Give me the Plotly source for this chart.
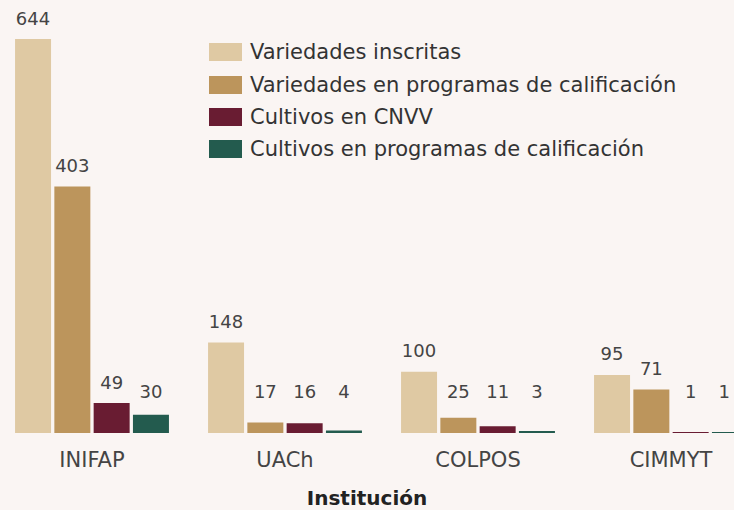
import plotly.graph_objects as go

categories = ["INIFAP", "UACh", "COLPOS", "CIMMYT"]
series_names = [
    "Variedades inscritas",
    "Variedades en programas de calificación",
    "Cultivos en CNVV",
    "Cultivos en programas de calificación",
]
variedades_inscritas = [644, 148, 100, 95]
variedades_programas = [403, 17, 25, 71]
cultivos_cnvv = [49, 16, 11, 1]
cultivos_programas = [30, 4, 3, 1]
series_values = [variedades_inscritas, variedades_programas, cultivos_cnvv, cultivos_programas]
colors = ["#DFC9A3", "#BC955C", "#691C32", "#235B4E"]

W, H = 734, 510
PLOT_BOTTOM = 433          # px of baseline
PX_PER_UNIT_Y = 0.6118
PITCH = 193.0              # px per category
FIRST_CENTER = 92.0        # px of first category center
SLOT = 39.3 / PITCH
BARW = 36.0 / PITCH

x0 = -FIRST_CENTER / PITCH
x1 = x0 + W / PITCH
ymax = PLOT_BOTTOM / PX_PER_UNIT_Y

font_family = "DejaVu Sans"
label_color = "#444444"
bg = "#FAF5F3"

fig = go.Figure()
for j, (name, vals, col) in enumerate(zip(series_names, series_values, colors)):
    xs = [i + (j - 1.5) * SLOT for i in range(len(categories))]
    fig.add_trace(go.Bar(
        x=xs, y=vals, width=BARW, name=name, marker=dict(color=col, line=dict(width=0)),
        showlegend=False, hoverinfo="y",
    ))
    label_y = [max(v + 31, 65) for v in vals]
    # keep labels near the right edge inside the canvas
    positions = ["middle left" if (x1 - x) * PITCH < 10 else "middle center" for x in xs]
    fig.add_trace(go.Scatter(
        x=xs, y=label_y, mode="text", text=[str(v) for v in vals],
        textposition=positions,
        textfont=dict(family=font_family, size=18, color=label_color),
        showlegend=False, hoverinfo="skip", cliponaxis=False,
    ))

# manual legend
leg_x0, leg_x1 = 209, 242
leg_rows = [52, 85, 117, 149]
for name, col, cy in zip(series_names, colors, leg_rows):
    fig.add_shape(type="rect", xref="paper", yref="paper",
                  x0=leg_x0 / W, x1=leg_x1 / W,
                  y0=(PLOT_BOTTOM - (cy + 9)) / PLOT_BOTTOM,
                  y1=(PLOT_BOTTOM - (cy - 9)) / PLOT_BOTTOM,
                  fillcolor=col, line=dict(width=0))
    fig.add_annotation(xref="paper", yref="paper", x=(250 - 2) / W,
                       y=(PLOT_BOTTOM - cy) / PLOT_BOTTOM,
                       text=name, showarrow=False, xanchor="left", yanchor="middle",
                       font=dict(family=font_family, size=21, color="#333333"))

fig.update_layout(
    width=W, height=H,
    margin=dict(l=0, r=0, t=0, b=H - PLOT_BOTTOM),
    paper_bgcolor=bg, plot_bgcolor=bg,
    barmode="overlay",
    font=dict(family=font_family, color=label_color),
    xaxis=dict(
        range=[x0, x1], tickvals=list(range(len(categories))), ticktext=categories,
        showgrid=False, zeroline=False, showline=False, ticks="",
        tickfont=dict(family=font_family, size=21, color=label_color),
        ticklabelstandoff=12,
        title=dict(text="<b>Institución</b>", standoff=21,
                   font=dict(family=font_family, size=20, color="#222222")),
        fixedrange=True,
    ),
    yaxis=dict(range=[0, ymax], visible=False, fixedrange=True),
)

fig.write_html(
    "out.html",
    config={"displayModeBar": False},
    post_script="document.body.style.margin='0';document.body.style.background='" + bg + "';",
)
